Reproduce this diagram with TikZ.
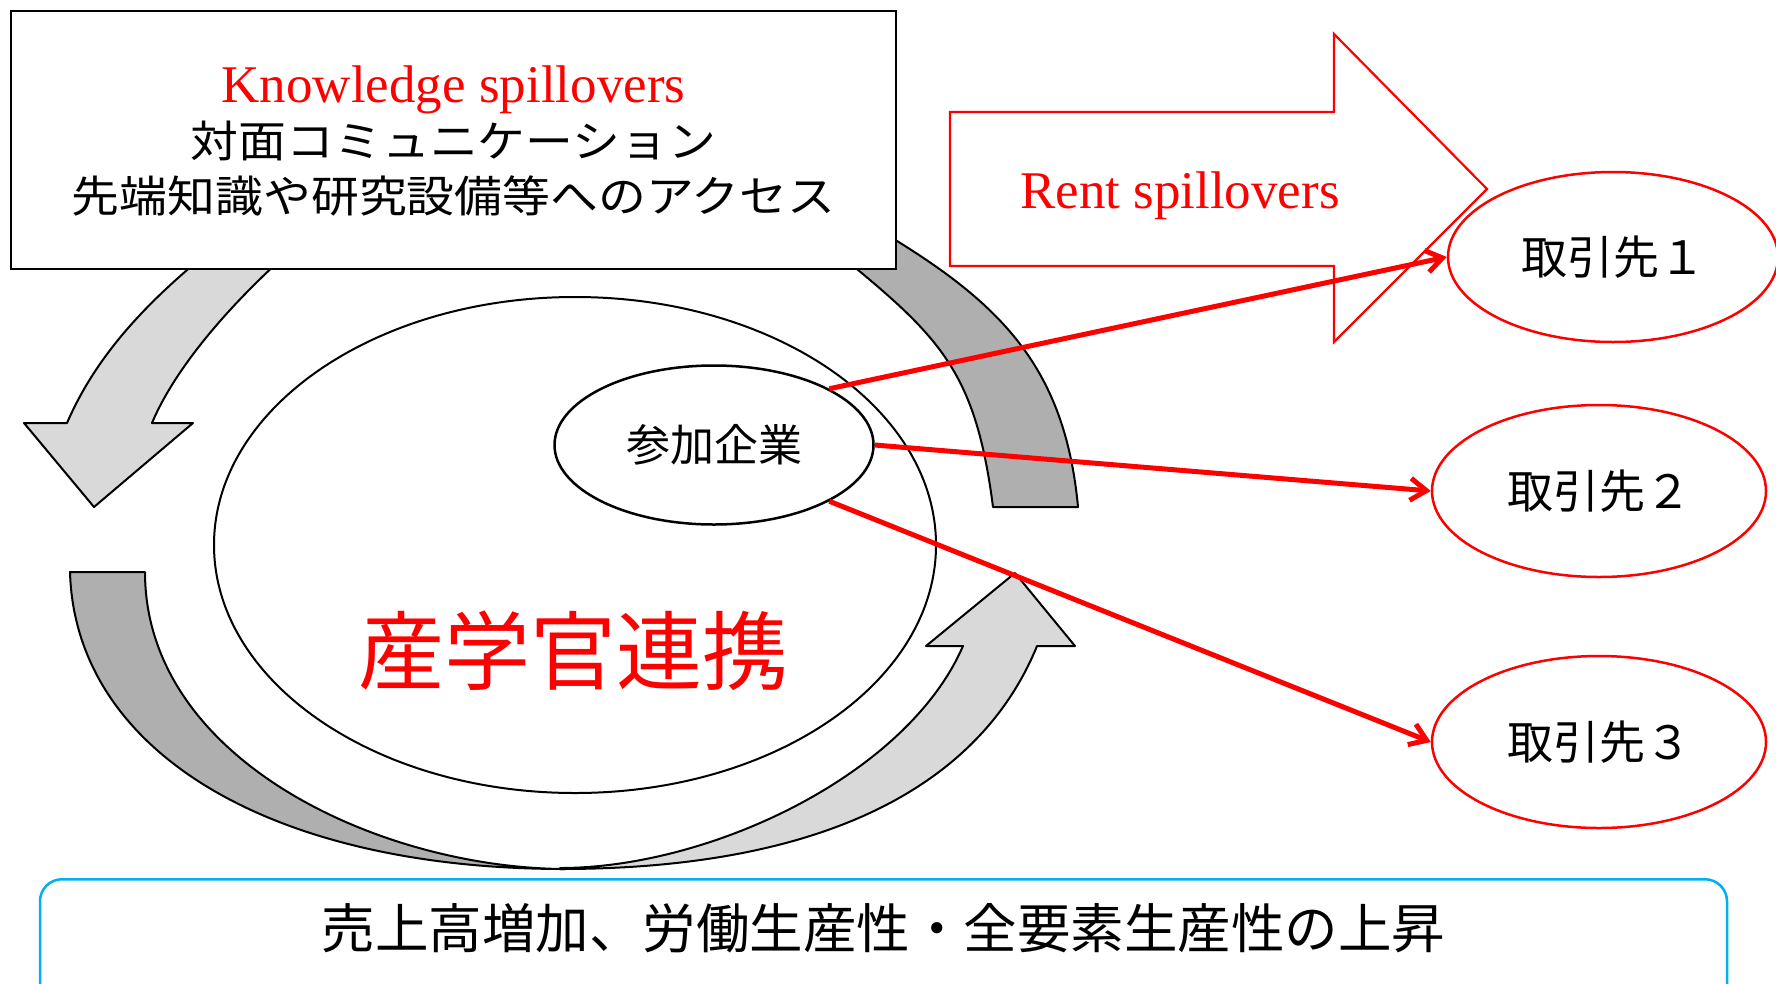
\documentclass[tikz,border=0pt]{standalone}
\usepackage{fontspec}
\setmainfont{Liberation Serif}
\newfontfamily\jp{Noto Sans CJK JP}
\newfontfamily\jpw[FakeStretch=1.1]{Noto Sans CJK JP}
\usetikzlibrary{shapes.geometric,arrows.meta}
\definecolor{lightband}{HTML}{D9D9D9}
\definecolor{darkband}{HTML}{AFAFAF}
\definecolor{resultblue}{HTML}{00B0F0}
\begin{document}
\begin{tikzpicture}[x=1pt,y=-1pt,
  band/.style={draw=black, line width=2pt, line join=round},
  lightfill/.style={band, fill=lightband},
  darkfill/.style={band, fill=darkband},
  infobox/.style={draw=black, line width=2.5pt, fill=white, rectangle, inner sep=0pt},
  ringell/.style={draw=black, line width=2pt, ellipse, inner sep=0pt},
  partner/.style={draw=red, line width=2.5pt, fill=white, ellipse, inner sep=0pt, minimum width=334pt, minimum height=172pt, font=\jp\fontsize{46}{50}\selectfont},
  spill/.style={draw=red, line width=5pt, -{Straight Barb[length=16pt,width=22pt]}},
  rentarrow/.style={draw=red, line width=2.2pt, fill=white, line join=miter},
  txt/.style={inner sep=0pt, outer sep=0pt}
]
\useasboundingbox (0,0) rectangle (1776,983);

% cycle bands
% upper-left light arrow (pointing down)
\path[lightfill] (217,245) .. controls (155,295) and (99,349) .. (67,423)
  -- (24,423) -- (94,507) -- (193,423) -- (152,423)
  .. controls (179,359) and (244,291) .. (297,245) -- cycle;

% upper-right dark band
\path[darkfill] (862,220) .. controls (991,295) and (1064,357) .. (1078,507)
  -- (993,507) .. controls (975,367) and (938,335) .. (830,247) -- cycle;

% lower-left dark band
\path[darkfill] (145,572) -- (70,572)
  .. controls (75,750) and (268,869) .. (565,869)
  .. controls (380,868) and (145,760) .. (145,572) -- cycle;

% lower-right light arrow (pointing up)
\path[lightfill] (560,869) .. controls (840,869) and (984,776) .. (1037,646)
  -- (1075,646) -- (1015,573) -- (926,646) -- (963,646)
  .. controls (907,775) and (710,868) .. (560,868) -- cycle;

% big ellipse
\node[ringell, minimum width=722pt, minimum height=496pt] (ring) at (575,545) {};
\node[txt, text=red, font=\jp\fontsize{86}{90}\selectfont] (sangaku) at (573,651) {産学官連携};

% participating firm
\node[ringell, line width=2.5pt, fill=white, minimum width=319pt, minimum height=159pt, font=\jp\fontsize{44}{48}\selectfont] (sanka) at (714,445) {参加企業};

% knowledge box
\node[infobox, minimum width=885pt, minimum height=258pt] (kbox) at (453.5,140) {};
\node[txt, anchor=base, text=red, font=\fontsize{53}{56}\selectfont] (know) at (453.5,102) {Knowledge spillovers};
\node[txt, anchor=base, font=\jpw\fontsize{43.5}{48}\selectfont] (face) at (453.5,157) {対面コミュニケーション};
\node[txt, anchor=base, font=\jpw\fontsize{43.5}{48}\selectfont] (access) at (453.5,212) {先端知識や研究設備等へのアクセス};

% rent arrow
\draw[rentarrow] (950,112) -- (1334,112) -- (1334,34) -- (1487,189) -- (1334,342) -- (1334,266) -- (950,266) -- cycle;
\node[txt, anchor=base, text=red, font=\fontsize{53}{56}\selectfont] (rent) at (1180,208) {Rent spillovers};

% partners
\node[partner, minimum width=330pt, minimum height=170pt] (t1) at (1613,257) {取引先１};
\node[partner] (t2) at (1599,491) {取引先２};
\node[partner] (t3) at (1599,742) {取引先３};

\draw[spill] (sanka.26) -- (t1.west);
\draw[spill] (sanka.east) -- (t2.west);
\draw[spill] (sanka.-26) -- (t3.west);

% result box
\node[draw=resultblue, line width=2.5pt, rounded corners=22pt, minimum width=1687pt, minimum height=130pt, anchor=north, inner sep=0pt] (result) at (883.5,878) {};
\node[txt, font=\jp\fontsize{53.5}{56}\selectfont] (resulttext) at (883.5,928) {売上高増加、労働生産性・全要素生産性の上昇};
\end{tikzpicture}
\end{document}
